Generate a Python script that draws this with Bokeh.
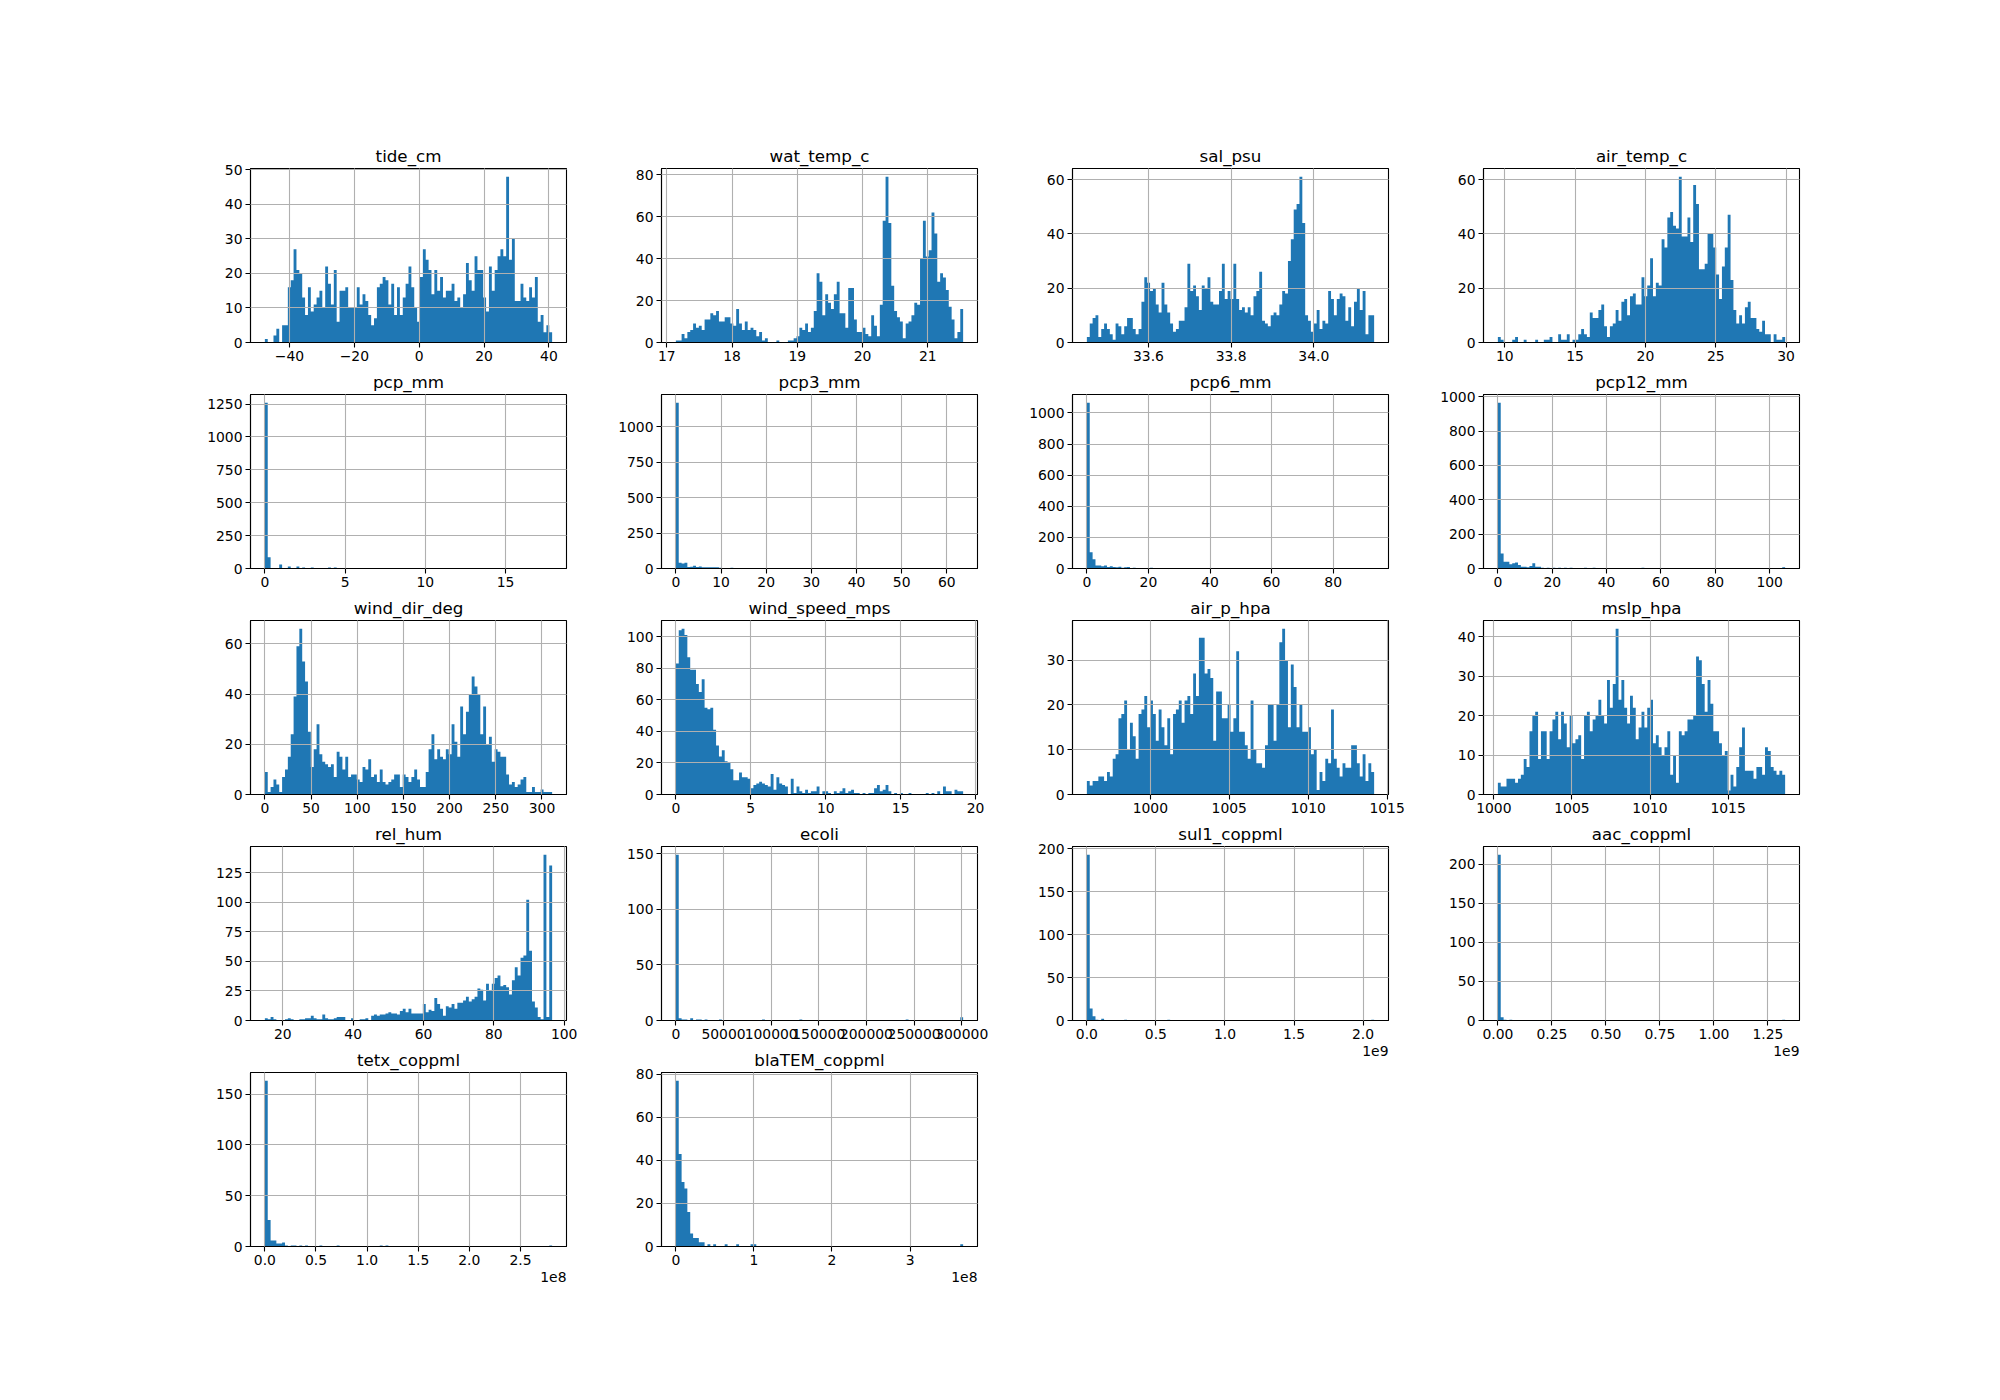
from bokeh.plotting import figure
from bokeh.layouts import row, column, Spacer
from bokeh.models import Range1d, FixedTicker, Title, ColumnDataSource
from bokeh.embed import file_html
from bokeh.resources import INLINE

# ---------------- data (100-bin histograms) ----------------
tide_cm = [1,0,0,2,4,0,5,5,16,18, 27,21,20,13,8,16,9,11,13,15, 10,22,17,11,21,6,15,15,16,10,
           10,10,16,11,14,12,8,5,7,16, 17,19,18,11,17,8,16,8,13,17, 22,16,10,6,19,27,24,21,14,21,
           15,19,13,15,15,17,12,13,10,14, 23,18,15,25,21,21,13,9,22,15, 21,25,27,25,48,24,30,12,12,17,
           13,12,16,13,19,6,8,3,5,3]
wat_temp_c = [1,1,4,2,5,6,9,7,8,6, 11,11,14,13,15,10,10,12,12,9, 8,16,9,6,10,6,7,6,3,5,
              1,2,0,0,0,1,0,0,0,1, 1,2,3,7,6,9,5,7,15,33, 29,13,23,19,16,23,29,14,14,7,
              26,26,11,5,5,7,4,3,13,8, 3,18,58,79,57,27,15,12,10,2, 9,10,13,19,18,40,58,41,44,62,
              52,29,33,31,25,17,11,2,5,16]
sal_psu = [2,7,9,10,2,5,7,5,3,1, 7,6,3,6,9,9,5,3,5,15, 24,22,19,20,14,11,22,14,11,7,
           4,5,8,8,13,29,19,21,17,12, 21,20,24,15,14,14,19,29,16,19, 16,29,16,12,13,11,13,10,17,19,
           26,8,7,6,10,11,10,14,19,18, 30,38,49,51,61,44,10,8,4,7, 12,5,8,7,19,16,10,16,18,17,
           8,13,6,15,20,12,19,3,10,10]
air_temp_c = [2,1,0,0,0,1,2,0,0,1, 0,0,0,1,0,0,1,1,2,0, 0,3,1,1,3,0,1,1,3,5,
              3,2,11,9,9,12,14,6,2,6, 7,12,8,15,16,10,17,18,14,14, 24,17,21,31,17,22,21,38,35,46,
              48,43,42,61,39,39,46,37,58,51, 27,27,29,40,40,35,25,16,28,35, 47,23,12,7,10,7,13,15,9,9,
              5,4,8,3,3,0,3,1,1,2]
wind_dir_deg = [9,1,3,6,4,1,7,10,15,24, 39,59,66,53,45,25,11,18,28,16, 13,12,11,12,7,17,15,10,15,7,
                8,8,6,5,11,10,14,7,8,5, 10,5,4,5,6,8,8,3,8,7, 5,7,10,6,3,3,9,18,24,14,
                18,15,14,18,16,28,21,15,35,24, 33,40,47,43,40,24,35,20,23,13, 18,17,15,15,8,4,5,3,4,6,
                7,1,1,3,1,1,2,1,1,1]
wind_speed_mps = [83,104,105,101,87,79,79,70,65,73, 55,54,55,41,31,24,28,21,20,16, 9,9,14,11,11,10,4,6,7,8,
                  7,6,5,13,3,11,7,6,5,0, 10,1,5,2,1,3,1,2,2,5, 0,2,2,1,0,2,1,2,4,1,
                  2,3,1,1,0,1,0,1,1,4, 6,2,3,6,2,0,1,0,1,0, 0,1,0,0,0,0,0,1,0,1,
                  0,2,0,5,2,2,0,3,2,2]
air_p_hpa = [3,2,3,3,4,4,3,5,4,8, 9,17,18,21,10,16,13,8,18,19, 22,15,21,18,12,19,15,11,17,9,
             18,19,21,16,21,22,18,27,22,35, 35,27,28,26,12,23,23,17,17,20, 14,17,32,14,14,11,8,21,10,7,
             7,6,11,20,20,12,20,34,37,30, 15,29,24,15,20,14,14,15,9,10, 1,5,3,8,7,19,8,6,4,7,
             6,6,11,11,7,4,9,3,7,5]
mslp_hpa = [3,2,2,4,4,4,3,4,5,9, 7,16,20,21,9,16,16,9,16,19, 21,14,21,18,12,20,13,14,15,9,
            20,21,16,19,20,24,20,18,29,22, 28,42,24,29,22,18,25,22,14,17, 21,17,22,24,13,15,12,10,12,16,
            5,10,3,16,15,16,19,19,20,35, 34,28,21,29,23,16,16,13,10,11, 1,5,2,7,12,17,6,6,6,4,
            7,7,5,12,11,7,6,5,6,5]
rel_hum = [2,1,3,1,0,0,0,1,2,1, 0,0,1,1,2,2,4,2,1,1, 5,2,1,1,2,3,3,3,0,0,
           2,0,0,1,1,2,0,4,5,4, 5,5,6,7,6,6,5,8,10,7, 10,6,6,6,6,14,7,9,8,19,
           14,10,4,12,11,14,10,15,15,17, 20,16,18,20,27,26,17,31,25,31, 36,38,29,30,28,22,34,45,38,53,
           55,102,59,16,11,3,1,140,3,131]

# sparse histograms: {bin index: count}, unlisted bins are empty
pcp_mm = {0: 1260, 1: 85, 5: 30, 8: 15, 11: 15, 13: 8, 16: 8, 22: 8, 24: 8, 99: 1}
pcp3_mm = {0: 1170, 1: 40, 2: 35, 3: 40, 4: 10, 5: 12, 6: 20, 7: 10, 8: 15, 9: 8, 10: 8, 11: 8,
           12: 8, 13: 8, 14: 8, 15: 5, 17: 3, 19: 5, 21: 2, 99: 1}
pcp6_mm = {0: 1065, 1: 105, 2: 60, 3: 20, 4: 20, 5: 15, 6: 20, 7: 10, 8: 15, 9: 10, 10: 8, 11: 12,
           12: 5, 13: 8, 14: 10, 16: 5, 20: 3, 22: 5, 24: 3, 26: 3, 30: 2, 33: 3, 38: 2, 42: 3, 50: 3, 99: 1}
pcp12_mm = {0: 965, 1: 88, 2: 40, 3: 40, 4: 25, 5: 30, 6: 35, 7: 20, 8: 10, 9: 10, 10: 8, 11: 15,
            12: 30, 13: 10, 14: 10, 15: 5, 17: 5, 19: 5, 21: 5, 23: 5, 25: 5, 28: 3, 30: 5, 33: 5,
            38: 3, 41: 3, 49: 3, 50: 5, 58: 3, 60: 3, 99: 8}
ecoli = {0: 149, 1: 2, 2: 1, 3: 1, 5: 2, 7: 1, 8: 1, 10: 1, 15: 1, 30: 1, 43: 1, 80: 1, 99: 3}
sul1_coppml = {0: 193, 1: 14, 2: 5, 3: 1, 5: 2, 13: 1, 28: 1, 99: 1}
aac_coppml = {0: 212, 1: 4, 2: 1, 4: 1, 99: 1}
tetx_coppml = {0: 163, 1: 26, 2: 6, 3: 6, 4: 3, 5: 3, 6: 4, 7: 1, 9: 1, 10: 1, 12: 1, 14: 1,
               19: 1, 25: 1, 40: 1, 42: 1, 99: 1}
blaTEM_coppml = {0: 77, 1: 43, 2: 30, 3: 27, 4: 16, 5: 6, 6: 4, 7: 4, 8: 2, 9: 2, 11: 1, 13: 1,
                 17: 1, 21: 1, 26: 1, 27: 1, 99: 1}

names = ["tide_cm", "wat_temp_c", "sal_psu", "air_temp_c",
         "pcp_mm", "pcp3_mm", "pcp6_mm", "pcp12_mm",
         "wind_dir_deg", "wind_speed_mps", "air_p_hpa", "mslp_hpa",
         "rel_hum", "ecoli", "sul1_coppml", "aac_coppml",
         "tetx_coppml", "blaTEM_coppml"]

series = {
    "tide_cm": tide_cm, "wat_temp_c": wat_temp_c, "sal_psu": sal_psu, "air_temp_c": air_temp_c,
    "pcp_mm": pcp_mm, "pcp3_mm": pcp3_mm, "pcp6_mm": pcp6_mm, "pcp12_mm": pcp12_mm,
    "wind_dir_deg": wind_dir_deg, "wind_speed_mps": wind_speed_mps, "air_p_hpa": air_p_hpa,
    "mslp_hpa": mslp_hpa, "rel_hum": rel_hum, "ecoli": ecoli, "sul1_coppml": sul1_coppml,
    "aac_coppml": aac_coppml, "tetx_coppml": tetx_coppml, "blaTEM_coppml": blaTEM_coppml,
}

# data min / max of each column (histogram range)
data_range = {
    "tide_cm": (-47.6, 41.0), "wat_temp_c": (17.14, 21.54), "sal_psu": (33.451, 34.146),
    "air_temp_c": (9.51, 29.93), "pcp_mm": (0.0, 17.9), "pcp3_mm": (0.0, 63.6),
    "pcp6_mm": (0.0, 93.3), "pcp12_mm": (0.0, 105.7), "wind_dir_deg": (0.0, 311.0),
    "wind_speed_mps": (0.0, 19.17), "air_p_hpa": (995.98, 1014.18), "mslp_hpa": (1000.26, 1018.65),
    "rel_hum": (14.89, 96.58), "ecoli": (0.0, 301500.0), "sul1_coppml": (0.0, 2.08e9),
    "aac_coppml": (0.0, 1.33e9), "tetx_coppml": (0.0, 2.81e8), "blaTEM_coppml": (0.0, 3.68e8),
}

x_ticks = {
    "tide_cm": ([-40, -20, 0, 20, 40], ["\u221240", "\u221220", "0", "20", "40"]),
    "wat_temp_c": ([17, 18, 19, 20, 21], ["17", "18", "19", "20", "21"]),
    "sal_psu": ([33.6, 33.8, 34.0], ["33.6", "33.8", "34.0"]),
    "air_temp_c": ([10, 15, 20, 25, 30], ["10", "15", "20", "25", "30"]),
    "pcp_mm": ([0, 5, 10, 15], ["0", "5", "10", "15"]),
    "pcp3_mm": ([0, 10, 20, 30, 40, 50, 60], ["0", "10", "20", "30", "40", "50", "60"]),
    "pcp6_mm": ([0, 20, 40, 60, 80], ["0", "20", "40", "60", "80"]),
    "pcp12_mm": ([0, 20, 40, 60, 80, 100], ["0", "20", "40", "60", "80", "100"]),
    "wind_dir_deg": ([0, 50, 100, 150, 200, 250, 300], ["0", "50", "100", "150", "200", "250", "300"]),
    "wind_speed_mps": ([0, 5, 10, 15, 20], ["0", "5", "10", "15", "20"]),
    "air_p_hpa": ([1000, 1005, 1010, 1015], ["1000", "1005", "1010", "1015"]),
    "mslp_hpa": ([1000, 1005, 1010, 1015], ["1000", "1005", "1010", "1015"]),
    "rel_hum": ([20, 40, 60, 80, 100], ["20", "40", "60", "80", "100"]),
    "ecoli": ([0, 50000, 100000, 150000, 200000, 250000, 300000],
              ["0", "50000", "100000", "150000", "200000", "250000", "300000"]),
    "sul1_coppml": ([0, 500000000, 1000000000, 1500000000, 2000000000], ["0.0", "0.5", "1.0", "1.5", "2.0"]),
    "aac_coppml": ([0, 250000000, 500000000, 750000000, 1000000000, 1250000000],
                   ["0.00", "0.25", "0.50", "0.75", "1.00", "1.25"]),
    "tetx_coppml": ([0, 50000000, 100000000, 150000000, 200000000, 250000000],
                    ["0.0", "0.5", "1.0", "1.5", "2.0", "2.5"]),
    "blaTEM_coppml": ([0, 100000000, 200000000, 300000000], ["0", "1", "2", "3"]),
}

y_ticks = {
    "tide_cm": [0, 10, 20, 30, 40, 50], "wat_temp_c": [0, 20, 40, 60, 80],
    "sal_psu": [0, 20, 40, 60], "air_temp_c": [0, 20, 40, 60],
    "pcp_mm": [0, 250, 500, 750, 1000, 1250], "pcp3_mm": [0, 250, 500, 750, 1000],
    "pcp6_mm": [0, 200, 400, 600, 800, 1000], "pcp12_mm": [0, 200, 400, 600, 800, 1000],
    "wind_dir_deg": [0, 20, 40, 60], "wind_speed_mps": [0, 20, 40, 60, 80, 100],
    "air_p_hpa": [0, 10, 20, 30], "mslp_hpa": [0, 10, 20, 30, 40],
    "rel_hum": [0, 25, 50, 75, 100, 125], "ecoli": [0, 50, 100, 150],
    "sul1_coppml": [0, 50, 100, 150, 200], "aac_coppml": [0, 50, 100, 150, 200],
    "tetx_coppml": [0, 50, 100, 150], "blaTEM_coppml": [0, 20, 40, 60, 80],
}

offset_text = {"sul1_coppml": "1e9", "aac_coppml": "1e9", "tetx_coppml": "1e8", "blaTEM_coppml": "1e8"}

# ---------------- drawing ----------------
BLUE = "#1f77b4"
FONT = "DejaVu Sans"
FIG_W = 411
LEFT_B, RIGHT_B, TOP_B, BOT_B = 60, 35, 28, 24
FRAME_H = 174


def as_list(v):
    if isinstance(v, dict):
        return [v.get(i, 0) for i in range(100)]
    return list(v)


def make_fig(name, bottom_border):
    counts = as_list(series[name])
    lo, hi = data_range[name]
    n = len(counts)
    w = (hi - lo) / n
    # outline of the histogram (adjacent bars merged, no seams)
    xs, ys = [lo], [0]
    for i, c in enumerate(counts):
        xs += [lo + i * w, lo + (i + 1) * w]
        ys += [c, c]
    xs.append(hi)
    ys.append(0)
    src = ColumnDataSource(dict(x=xs, y=ys))
    pad = 0.05 * (hi - lo)
    x0, x1 = lo - pad, hi + pad
    ytop = max(counts) * 1.05
    p = figure(width=FIG_W, height=TOP_B + FRAME_H + bottom_border,
               min_border_left=LEFT_B, min_border_right=RIGHT_B,
               min_border_top=TOP_B, min_border_bottom=bottom_border,
               x_range=Range1d(x0, x1), y_range=Range1d(0, ytop),
               output_backend="svg", toolbar_location=None, title=name,
               background_fill_color="white", border_fill_color="white")
    p.patch(x="x", y="y", source=src, fill_color=BLUE, line_color=None)

    p.title.align = "center"
    p.title.text_font = FONT
    p.title.text_font_size = "16.7px"
    p.title.text_font_style = "normal"
    p.title.text_color = "black"
    p.title.standoff = 6
    p.title.offset = 0

    xt, xl = x_ticks[name]
    yt = y_ticks[name]
    p.xaxis.ticker = FixedTicker(ticks=xt)
    p.xaxis.major_label_overrides = {t: l for t, l in zip(xt, xl)}
    p.yaxis.ticker = FixedTicker(ticks=yt)
    p.yaxis.major_label_overrides = {t: str(t) for t in yt}
    p.xgrid.ticker = FixedTicker(ticks=xt)
    p.ygrid.ticker = FixedTicker(ticks=yt)
    for g in (p.xgrid, p.ygrid):
        g.grid_line_color = "#b0b0b0"
        g.grid_line_width = 1.1
        g.level = "overlay"
    for ax in (p.xaxis, p.yaxis):
        ax.axis_line_color = "black"
        ax.axis_line_width = 1.1
        ax.major_tick_line_color = "black"
        ax.major_tick_line_width = 1.1
        ax.major_tick_out = 5
        ax.major_tick_in = 0
        ax.minor_tick_line_color = None
        ax.major_label_standoff = 3
        ax.major_label_text_font = FONT
        ax.major_label_text_font_size = "13.9px"
        ax.major_label_text_color = "black"
    p.outline_line_color = "black"
    p.outline_line_width = 1.1
    p.outline_line_alpha = 1.0

    if name in offset_text:
        p.add_layout(Title(text=offset_text[name], align="right", text_font=FONT,
                           text_font_size="13.9px", text_font_style="normal",
                           text_color="black", standoff=4, offset=0), "below")
    return p


ncols = 4
cols = []
for c in range(ncols):
    col_names = [names[i] for i in range(c, len(names), ncols)]
    figs = []
    for k, nm in enumerate(col_names):
        last = (k == len(col_names) - 1)
        if last:
            bb = 50 if nm in ("sul1_coppml", "aac_coppml") else 46
        else:
            bb = BOT_B
        figs.append(make_fig(nm, bb))
    cols.append(column(*figs, spacing=0))

grid = row(Spacer(width=250 - LEFT_B), *cols, spacing=0)
page = column(Spacer(height=168 - TOP_B), grid, spacing=0)

open("out.html", "w").write(file_html(page, INLINE, title="histograms"))
